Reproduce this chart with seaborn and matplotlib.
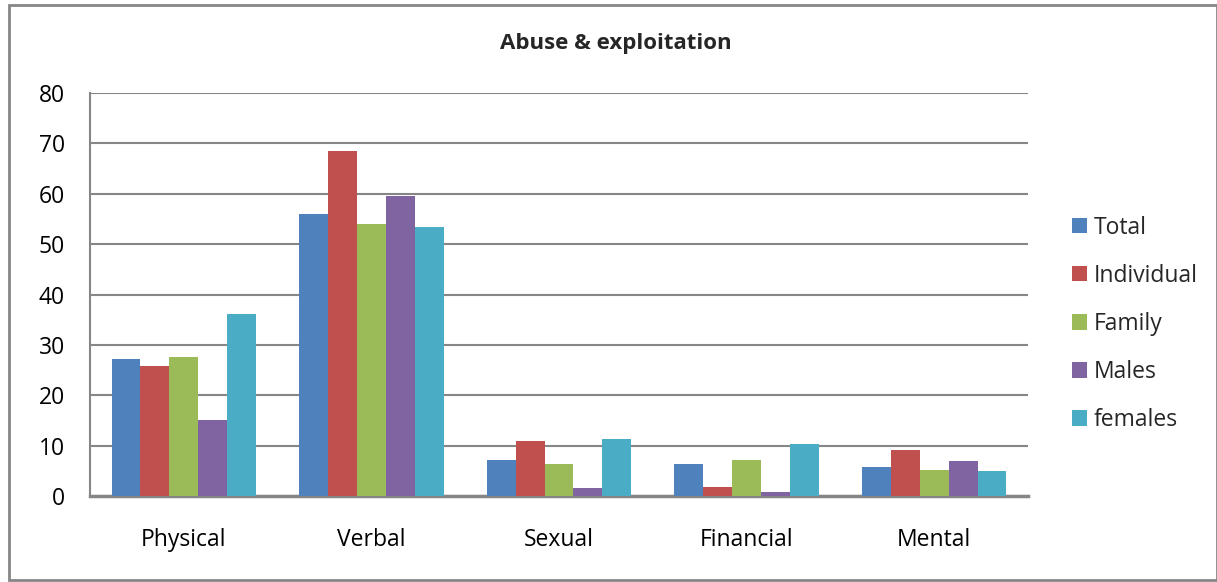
import matplotlib

matplotlib.use("Agg")
import matplotlib.pyplot as plt
import matplotlib.patches as mpatches
import pandas as pd
import seaborn as sns

categories = ["Physical", "Verbal", "Sexual", "Financial", "Mental"]
groups = ["Total", "Individual", "Family", "Males", "females"]
total = [27.2, 55.9, 7.2, 6.3, 5.8]
individual = [25.9, 68.5, 11.0, 1.7, 9.1]
family = [27.6, 53.9, 6.3, 7.2, 5.2]
males = [15.0, 59.5, 1.5, 0.7, 7.0]
females = [36.1, 53.4, 11.4, 10.3, 5.0]
colors = ["#4F81BD", "#C0504D", "#9BBB59", "#8064A2", "#4BACC6"]

series = [total, individual, family, males, females]
rows = []
for g, vals in zip(groups, series):
    for c, v in zip(categories, vals):
        rows.append({"category": c, "group": g, "value": v})
df = pd.DataFrame(rows)

sns.set_theme(style="white")
plt.rcParams["font.family"] = ["Open Sans", "DejaVu Sans"]

fig = plt.figure(figsize=(12.17, 5.82), dpi=100)
ax = fig.add_axes([90 / 1217, 86 / 582, 938 / 1217, 403 / 582])

sns.barplot(data=df, x="category", y="value", hue="group", hue_order=groups,
            order=categories, palette=colors, width=0.77, saturation=1,
            edgecolor="none", ax=ax, zorder=3)

ax.set_ylim(0, 80)
ax.set_yticks(range(0, 81, 10))
ax.set_xlim(-0.5, 4.5)
ax.set_xlabel("")
ax.set_ylabel("")
ax.grid(axis="y", color="#868686", linewidth=1.5, zorder=0)
ax.grid(axis="x", visible=False)
ax.set_axisbelow(True)
for side in ["top", "right"]:
    ax.spines[side].set_visible(False)
ax.spines["left"].set_color("#868686")
ax.spines["left"].set_linewidth(1.5)
ax.spines["bottom"].set_color("#868686")
ax.spines["bottom"].set_linewidth(2.5)
ax.tick_params(axis="y", length=0, pad=18, labelsize=16.5, labelcolor="black")
ax.tick_params(axis="x", length=0, pad=23, labelsize=16.5, labelcolor="black")

handles, labels = ax.get_legend_handles_labels()
ax.legend(handles, labels, loc="center left", bbox_to_anchor=(1.035, 0.427),
          frameon=False, fontsize=16.5, handlelength=0.65, handleheight=0.65,
          handletextpad=0.3, labelspacing=1.05, borderpad=0)

fig.text(0.506, 1 - 44 / 582, "Abuse & exploitation", ha="center", va="center",
         fontsize=16, fontweight="bold")

border = mpatches.Rectangle((9 / 1217, 2 / 582), 1 - 9 / 1217, 1 - 7 / 582,
                            transform=fig.transFigure, fill=False,
                            edgecolor="#868686", linewidth=2)
fig.patches.append(border)

fig.savefig("out.png", dpi=100)
